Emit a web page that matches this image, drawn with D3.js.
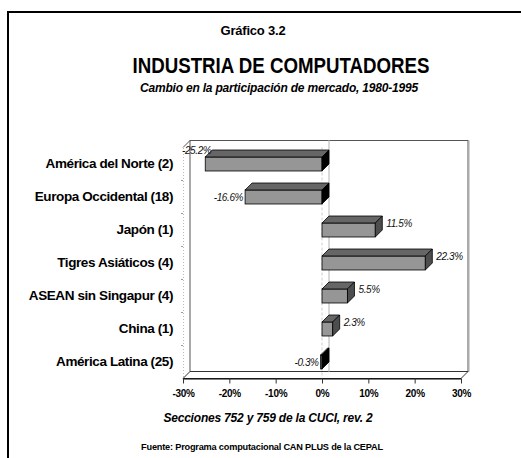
<!DOCTYPE html>
<html>
<head>
<meta charset="utf-8">
<script src="https://cdn.jsdelivr.net/npm/d3@7"></script>
<style>
  body { margin: 0; background: #fff; }
  svg { display: block; font-family: "Liberation Sans", Arial, sans-serif; }
</style>
</head>
<body>
<div id="chart"></div>
<script>
// chart data
const categories = ['América del Norte (2)', 'Europa Occidental (18)', 'Japón (1)',
  'Tigres Asiáticos (4)', 'ASEAN sin Singapur (4)', 'China (1)', 'América Latina (25)'];
const values = [-25.2, -16.6, 11.5, 22.3, 5.5, 2.3, -0.3];
const xTicks = [-30, -20, -10, 0, 10, 20, 30];

const width = 521, height = 458;
const dx = 7, dy = -7; // 3d depth

const svg = d3.select('#chart').append('svg')
    .attr('width', width)
    .attr('height', height);

// frame
svg.append('path')
    .attr('d', 'M8,458 L8,12 L521,12')
    .attr('fill', 'none')
    .attr('stroke', '#000')
    .attr('stroke-width', 2);

// titles
svg.append('text')
    .attr('x', 253).attr('y', 35)
    .attr('text-anchor', 'middle')
    .style('font-weight', 'bold').style('font-size', '13px')
    .style('letter-spacing', '-0.2px')
    .text('Gráfico 3.2');
svg.append('text')
    .attr('x', 281).attr('y', 73)
    .attr('text-anchor', 'middle')
    .attr('textLength', 297).attr('lengthAdjust', 'spacingAndGlyphs')
    .style('font-weight', 'bold').style('font-size', '22px')
    .text('INDUSTRIA DE COMPUTADORES');
svg.append('text')
    .attr('x', 279).attr('y', 92)
    .attr('text-anchor', 'middle')
    .style('font-weight', 'bold').style('font-style', 'italic').style('font-size', '12px')
    .style('letter-spacing', '-0.2px')
    .text('Cambio en la participación de mercado, 1980-1995');

const x = d3.scaleLinear().domain([-30, 30]).range([183, 461]);
const y = d3.scaleBand().domain(categories).range([147.5, 378.5])
    .paddingInner(0.576).paddingOuter(0.288);
const y0 = 147.5, y1 = 378.5;
const xl = x.range()[0], xr = x.range()[1];

const g = svg.append('g');

// back wall
g.append('rect')
    .attr('x', xl + dx).attr('y', y0 + dy)
    .attr('width', xr - xl).attr('height', y1 - y0)
    .attr('fill', '#fff').attr('stroke', '#555').attr('stroke-width', 1);
g.append('line')
    .attr('x1', xr + dx + 1).attr('x2', xr + dx + 1)
    .attr('y1', y0 + dy).attr('y2', y1 + dy)
    .attr('stroke', '#aaa').attr('stroke-width', 1);
// left wall top edge
g.append('line')
    .attr('x1', xl).attr('y1', y0).attr('x2', xl + dx).attr('y2', y0 + dy)
    .attr('stroke', '#555');
// floor
g.append('path')
    .attr('d', `M${xl},${y1} L${xl + dx},${y1 + dy} L${xr + dx},${y1 + dy} L${xr},${y1} Z`)
    .attr('fill', '#fff').attr('stroke', '#333').attr('stroke-width', 1);

// gridline at 0 on back wall and front
g.append('line')
    .attr('x1', x(0) + dx).attr('x2', x(0) + dx)
    .attr('y1', y0 + dy).attr('y2', y1 + dy)
    .attr('stroke', '#ccc').attr('stroke-width', 1.5);
g.append('line')
    .attr('x1', x(0)).attr('x2', x(0))
    .attr('y1', y0).attr('y2', y1)
    .attr('stroke', '#ccc').attr('stroke-width', 1).attr('stroke-dasharray', '3,2');

// x axis
const xAxis = d3.axisBottom(x)
    .tickValues(xTicks)
    .tickFormat(d => d + '%')
    .tickSize(5)
    .tickSizeOuter(0);
const ax = g.append('g')
    .attr('transform', 'translate(0,' + y1 + ')')
    .call(xAxis);
ax.select('.domain').attr('stroke', '#000').attr('stroke-width', 1.2);
ax.selectAll('.tick line').attr('stroke', '#333');
ax.selectAll('text')
    .attr('y', 11)
    .style('font-family', '"Liberation Sans", Arial, sans-serif')
    .style('font-weight', 'bold').style('font-size', '10px').style('letter-spacing', '-0.3px')
    .attr('fill', '#000');

// y axis
const yAxis = d3.axisLeft(y).tickSize(0).tickPadding(10);
const ay = g.append('g')
    .attr('transform', 'translate(' + xl + ',0)')
    .call(yAxis);
ay.select('.domain').attr('stroke', '#bbb').attr('stroke-dasharray', '1,2');
ay.selectAll('text')
    .style('font-family', '"Liberation Sans", Arial, sans-serif')
    .style('font-weight', 'bold').style('font-size', '13.5px').style('letter-spacing', '-0.4px')
    .attr('fill', '#000');
// small ticks at band boundaries
const step = y.step();
const bounds = categories.slice(1).map(c => y(c) - (step - y.bandwidth()) / 2);
g.selectAll('.btick')
    .data(bounds)
  .enter().append('line')
    .attr('class', 'btick')
    .attr('x1', xl - 2).attr('x2', xl)
    .attr('y1', d => d).attr('y2', d => d)
    .attr('stroke', '#999');

// bars
const rows = categories.map((c, i) => ({cat: c, v: values[i]}));
const bar = g.selectAll('.bar')
    .data(rows)
  .enter().append('g')
    .attr('class', 'bar');

bar.append('rect')
    .attr('x', d => x(Math.min(0, d.v)))
    .attr('y', d => y(d.cat))
    .attr('width', d => Math.abs(x(d.v) - x(0)))
    .attr('height', y.bandwidth())
    .attr('fill', '#969696').attr('stroke', '#000').attr('stroke-width', 0.8);

bar.append('path')
    .attr('d', d => {
      const a = x(Math.min(0, d.v)), b = x(Math.max(0, d.v)), t = y(d.cat);
      return `M${a},${t} L${a + dx},${t + dy} L${b + dx},${t + dy} L${b},${t} Z`;
    })
    .attr('fill', '#666').attr('stroke', '#000').attr('stroke-width', 0.8);

bar.append('path')
    .attr('d', d => {
      const b = x(Math.max(0, d.v)), t = y(d.cat), h = y.bandwidth();
      return `M${b},${t} L${b + dx},${t + dy} L${b + dx},${t + h + dy} L${b},${t + h} Z`;
    })
    .attr('fill', d => d.v < 0 ? '#000' : '#4d4d4d').attr('stroke', '#000').attr('stroke-width', 0.8);

// value labels
bar.append('text')
    .style('font-style', 'italic').style('font-size', '10px').style('letter-spacing', '-0.4px')
    .attr('fill', '#111')
    .text(d => d.v.toFixed(1) + '%')
    .each(function(d) {
      const t = d3.select(this);
      const w = this.getComputedTextLength();
      const top = y(d.cat), h = y.bandwidth();
      if (d.v >= 0) {
        t.attr('x', x(d.v) + dx + 4).attr('y', top + 4);
      } else if (x(d.v) - 2 - w < xl - 1) {
        t.attr('x', xl - 1).attr('y', top - 3);
      } else {
        t.attr('text-anchor', 'end').attr('x', x(d.v) - 2).attr('y', top + h / 2 + 4);
      }
    });

// notes
svg.append('text')
    .attr('x', 268).attr('y', 422)
    .attr('text-anchor', 'middle')
    .style('font-weight', 'bold').style('font-style', 'italic').style('font-size', '12px')
    .style('letter-spacing', '-0.2px')
    .text('Secciones 752 y 759 de la CUCI, rev. 2');
svg.append('text')
    .attr('x', 262).attr('y', 450)
    .attr('text-anchor', 'middle')
    .style('font-weight', 'bold').style('font-size', '9.2px')
    .style('letter-spacing', '-0.2px')
    .text('Fuente: Programa computacional CAN PLUS de la CEPAL');
</script>
</body>
</html>
